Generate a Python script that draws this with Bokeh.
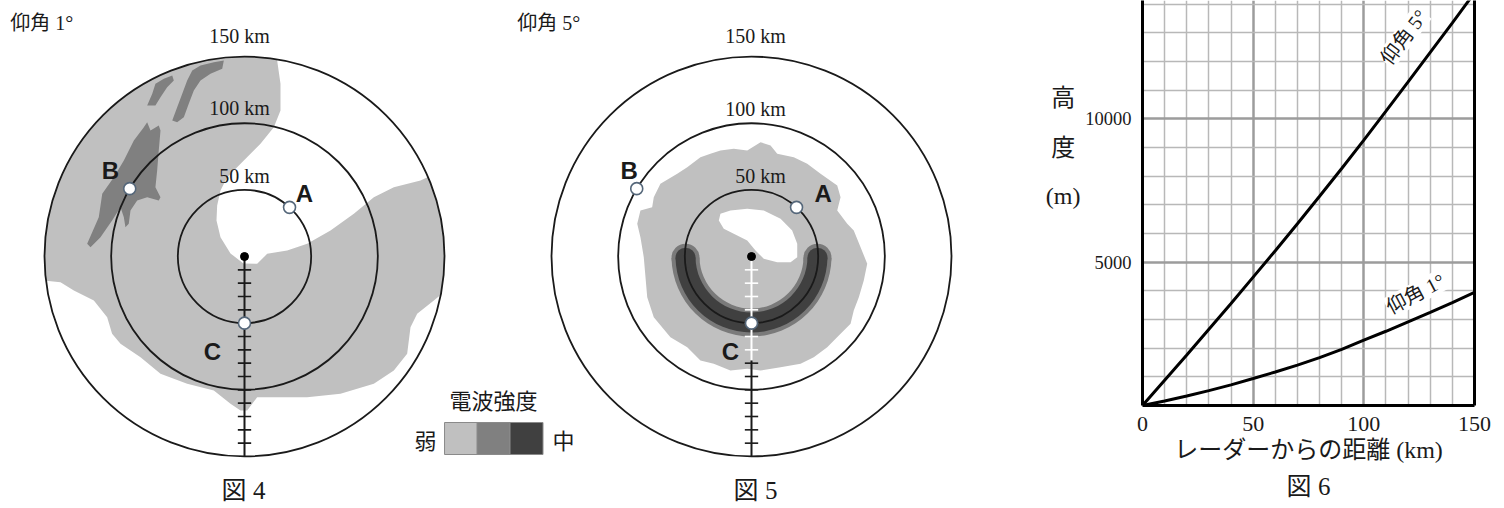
import numpy as np
from bokeh.plotting import figure
from bokeh.models import Range1d, FixedTicker, LinearAxis, Title, Label
from bokeh.layouts import row
from bokeh.embed import file_html
from bokeh.resources import INLINE
from bokeh.core.properties import value

# ---------------- data ----------------
ring_km = [50, 100, 150]
ring_text = ["50 km", "100 km", "150 km"]
point_names = ["A", "B", "C"]
point_range_km = [50, 100, 50]
point_azimuth_deg = [47.5, 149.4, 270.0]
ruler_ticks_km = [10, 20, 30, 40, 50, 60, 70, 80, 90, 100, 110, 120, 130, 140]

legend_title = "電波強度"
legend_low = "弱"
legend_high = "中"
intensity_colors = ["#c0c0c0", "#808080", "#404040"]

# 図4 (仰角1°) weak echo boundary, km east / north of the radar
f4_weak_a_x = [24.5, 27.0, 27.0, 22.0, 12.0, -0.5, -13.0, -18.0, -20.5, -21.0, -18.0, -10.5,
               -0.8, 9.5, 17.0, 32.0, 47.0, 64.5, 82.0, 97.0, 112.0, 132.0]
f4_weak_a_y = [147.0, 129.5, 109.5, 97.0, 84.5, 72.0, 59.5, 49.5, 38.3, 27.0, 14.5, 2.3,
               -5.3, -5.5, 2.0, 4.5, 9.5, 19.5, 32.0, 44.5, 52.0, 57.0]
f4_weak_b_x = [142.0, 129.5, 124.5, 122.0, 112.0, 97.0, 72.0, 47.0, 22.0, 9.5, 2.0, -3.0,
               -10.5, -23.0, -43.0, -63.0, -78.0, -93.0, -99.3, -103.0, -113.0, -128.0, -138.0]
f4_weak_b_y = [-33.0, -43.0, -53.0, -73.0, -85.5, -95.5, -103.0, -105.5, -105.5, -105.5, -115.5, -115.5,
               -110.5, -100.5, -95.5, -88.0, -75.5, -65.5, -58.0, -45.5, -33.0, -25.5, -19.3]
f4_weak_edge_deg = [23.4, -11.0, 187.0, 80.5]

# 図4 moderate echo streaks
f4_mod_xs = [
    [-118.0, -109.3, -106.7, -98.0, -90.5, -83.0, -75.5, -73.0, -70.5, -64.3, -63.0, -64.3, -65.5,
     -66.8, -63.0, -64.3, -73.0, -80.5, -85.5, -86.8, -89.3, -90.5, -93.0, -99.3, -108.0, -115.5],
    [-73.0, -69.2, -66.8, -60.5, -54.2, -53.0, -58.0, -63.0, -66.8],
    [-54.2, -50.5, -46.7, -43.0, -39.2, -33.0, -23.0, -15.5, -16.7, -25.5, -33.0, -38.0, -41.8, -45.5, -50.5],
]
f4_mod_ys = [
    [9.5, 29.5, 47.0, 59.5, 72.0, 87.0, 97.0, 100.7, 94.5, 98.3, 94.5, 79.5, 64.5,
     52.0, 44.5, 42.0, 44.5, 42.0, 34.5, 24.5, 22.0, 29.5, 37.0, 27.0, 14.5, 7.0],
    [113.3, 122.0, 129.5, 133.3, 135.8, 132.0, 127.0, 119.5, 113.3],
    [102.0, 112.0, 122.0, 132.0, 139.5, 143.3, 145.7, 147.0, 140.8, 137.0, 132.0, 124.5, 114.5, 104.5, 100.7],
]

# 図5 (仰角5°) weak echo blob and its echo-free hole
f5_weak_x = [-23.3, -13.3, -3.2, 6.8, 14.3, 19.3, 31.7, 41.8, 51.8, 64.3, 66.8, 64.3, 71.8, 76.7, 81.8,
             86.8, 84.2, 80.5, 76.7, 74.3, 66.8, 56.8, 46.7, 36.8, 21.8, 6.8, -3.2, -15.8, -28.3, -38.3,
             -48.2, -60.8, -73.3, -78.2, -79.5, -80.8, -83.3, -85.7, -83.3, -74.5, -73.3, -68.3, -55.7,
             -48.2, -38.3, -30.8]
f5_weak_y = [79.5, 80.8, 79.5, 85.7, 83.3, 77.0, 74.5, 69.5, 62.0, 53.3, 44.5, 34.5, 24.5, 19.5, 7.0,
             -5.5, -18.0, -30.5, -40.5, -50.5, -58.0, -68.0, -75.5, -80.5, -83.0, -85.5, -84.2, -85.5, -80.5, -78.0,
             -68.0, -60.5, -45.5, -30.5, -15.5, -0.5, 14.5, 24.5, 34.5, 37.0, 44.5, 54.5, 62.0,
             67.0, 74.5, 77.0]
f5_hole_x = [-24.5, -23.3, -15.8, -3.2, 9.2, 21.8, 30.5, 34.3, 34.3, 29.3, 19.3, 9.2, 3.0, -3.2, -13.3, -20.8]
f5_hole_y = [27.0, 32.0, 34.5, 35.8, 34.5, 28.3, 19.5, 9.5, -0.5, -4.3, -4.3, -1.7, 4.5, 12.0, 17.0, 20.8]
# 図5 moderate / strong band along the 50 km ring (km, degrees)
f5_band_mid_km = 49.5
f5_band_strong_half_km = 7.5
f5_band_mod_half_km = 10.5
f5_band_deg = [181.0, 359.0]

# 図6 beam height vs distance
distance_km = [0, 10, 20, 30, 40, 50, 60, 70, 80, 90, 100, 110, 120, 130, 140, 150]
height_5deg_m = [0, 880, 1760, 2660, 3560, 4480, 5400, 6340, 7300, 8270, 9260, 10270, 11290, 12320, 13350, 14400]
height_1deg_m = [0, 160, 330, 520, 720, 940, 1170, 1410, 1670, 1960, 2280, 2590, 2920, 3250, 3590, 3950]
x_ticks = [0, 50, 100, 150]
x_minor = [10, 20, 30, 40, 60, 70, 80, 90, 110, 120, 130, 140]
y_ticks = [5000, 10000]
y_minor = [1000, 2000, 3000, 4000, 6000, 7000, 8000, 9000, 11000, 12000, 13000, 14000]
y_title = ["高", "度", "(m)"]

# ---------------- styles ----------------
SERIF = "Liberation Serif"
MIX = "Liberation Serif, Noto Sans CJK JP"
CJK = "Noto Sans CJK JP"
SANS = "Liberation Sans"
INK = "#1a1a1a"

p = figure(width=1082, height=508, x_range=Range1d(-183, 628.5), y_range=Range1d(-189, 192),
           x_axis_type=None, y_axis_type=None, output_backend="svg", toolbar_location=None,
           min_border=0)
p.extra_x_ranges = {"f5": Range1d(-563.25, 248.25)}
p.grid.visible = False
p.outline_line_color = None
p.background_fill_color = "white"


def arc(a0, a1, r=150.0, n=60):
    t = np.radians(np.linspace(a0, a1, n))
    return list(r * np.cos(t)), list(r * np.sin(t))


def texts(xs, ys, tx, font, size, rn="default", align="center", style="normal"):
    p.text(x=xs, y=ys, text=tx, text_font=value(font), text_font_size=size,
           text_align=align, text_baseline="middle", text_font_style=style,
           text_color=INK, x_range_name=rn)


def ruler(rn, white_to_km):
    wt = [t for t in ruler_ticks_km if t <= white_to_km]
    bt = [t for t in ruler_ticks_km if t > white_to_km]
    if white_to_km > 0:
        p.segment(x0=[0], y0=[0], x1=[0], y1=[-white_to_km], line_color="white", line_width=2, x_range_name=rn)
        p.segment(x0=[-5] * len(wt), y0=[-t for t in wt], x1=[5] * len(wt), y1=[-t for t in wt],
                  line_color="white", line_width=1.6, x_range_name=rn)
    p.segment(x0=[0], y0=[-white_to_km], x1=[0], y1=[-150], line_color=INK, line_width=2, x_range_name=rn)
    p.segment(x0=[-5] * len(bt), y0=[-t for t in bt], x1=[5] * len(bt), y1=[-t for t in bt],
              line_color=INK, line_width=1.6, x_range_name=rn)


# ---- 図4 echoes ----
ax1, ay1 = arc(f4_weak_edge_deg[0], f4_weak_edge_deg[1])
ax2, ay2 = arc(f4_weak_edge_deg[2], f4_weak_edge_deg[3])
p.patch(f4_weak_a_x + ax1 + f4_weak_b_x + ax2, f4_weak_a_y + ay1 + f4_weak_b_y + ay2,
        fill_color=intensity_colors[0], line_color=None)
p.patches(f4_mod_xs, f4_mod_ys, fill_color=intensity_colors[1], line_color=None)

# ---- 図5 echoes ----
p.patch(f5_weak_x, f5_weak_y, fill_color=intensity_colors[0], line_color=None, x_range_name="f5")
p.patch(f5_hole_x, f5_hole_y, fill_color="white", line_color=None, x_range_name="f5")
for half, col in [(f5_band_mod_half_km, "#7a7a7a"), (f5_band_strong_half_km, intensity_colors[2])]:
    p.annular_wedge(x=[0], y=[0], inner_radius=f5_band_mid_km - half, outer_radius=f5_band_mid_km + half,
                    start_angle=np.radians(f5_band_deg[0]), end_angle=np.radians(f5_band_deg[1]),
                    fill_color=col, line_color=None, x_range_name="f5")
    ends = np.radians(f5_band_deg)
    p.circle(x=list(f5_band_mid_km * np.cos(ends)), y=list(f5_band_mid_km * np.sin(ends)), radius=half,
             fill_color=col, line_color=None, x_range_name="f5")

# ---- rings, rulers, points, texts for both maps ----
az = np.radians(point_azimuth_deg)
px = list(np.array(point_range_km) * np.cos(az))
py = list(np.array(point_range_km) * np.sin(az))
maps = [
    ("default", 0, "仰角 1°", "図 4",
     [(0, 60.75), (-3.75, 111.75), (-3.75, 165.75)], [(45, 47.25), (-100.5, 64.5), (-24, -71.25)], (-0.75, -175.5)),
    ("f5", 78, "仰角 5°", "図 5",
     [(6.75, 60.75), (3, 111), (3, 165.75)], [(53.8, 47.25), (-91.7, 64.5), (-15.75, -71.25)], (3, -175.5)),
]
for rn, white_to, ttl, fig_lbl, ring_pos, pt_pos, cap_pos in maps:
    p.circle(x=[0, 0, 0], y=[0, 0, 0], radius=ring_km, fill_color=None, line_color=INK,
             line_width=1.8, x_range_name=rn)
    ruler(rn, white_to)
    p.scatter(x=[0], y=[0], size=8, color="black", x_range_name=rn)
    p.scatter(x=px, y=py, size=12, fill_color="white", line_color="#55677a", line_width=1.6, x_range_name=rn)
    texts([-175.6], [175.5], [ttl], MIX, "20px", rn, align="left")
    texts([a for a, b in ring_pos], [b for a, b in ring_pos], ring_text, SERIF, "20px", rn)
    texts([a for a, b in pt_pos], [b for a, b in pt_pos], point_names, SANS, "24px", rn, style="bold")
    texts([cap_pos[0]], [cap_pos[1]], [fig_lbl], MIX, "25px", rn)

# ---- legend ----
p.rect(x=[162.4, 186.75, 211.5], y=[-136.5] * 3, width=24.75, height=24,
       fill_color=intensity_colors, line_color="#8a8a8a", line_width=1)
texts([186.75], [-106.5], [legend_title], CJK, "22px")
texts([135.75, 239.25], [-136.5, -136.5], [legend_low, legend_high], CJK, "22px")

# ---- 図6 vertical axis title (sits left of the 図6 tick labels) ----
texts([614.0, 614.0, 614.0], [119.25, 81.75, 45.75], y_title, MIX, "24px")

# ---------------- 図6 ----------------
q = figure(width=422, height=508, x_range=Range1d(0, 150), y_range=Range1d(0, 14130),
           output_backend="svg", toolbar_location=None,
           min_border_left=60, min_border_right=30, min_border_top=0, min_border_bottom=103)
for fig in (p, q):
    try:
        fig.frame_align = False
    except Exception:
        pass
q.outline_line_color = None
xt = FixedTicker(ticks=x_ticks, minor_ticks=x_minor)
yt = FixedTicker(ticks=y_ticks, minor_ticks=y_minor)
q.xaxis.ticker = xt
q.yaxis.ticker = yt
q.xgrid.ticker = xt
q.ygrid.ticker = yt
for g in (q.xgrid, q.ygrid):
    g.grid_line_color = "#9c9c9c"
    g.grid_line_width = 2.5
    g.minor_grid_line_color = "#b8b8b8"
    g.minor_grid_line_width = 1.5
for ax in (q.xaxis, q.yaxis):
    ax.axis_line_width = 3
    ax.axis_line_color = "black"
    ax.major_tick_line_color = None
    ax.minor_tick_line_color = None
    ax.major_label_text_font = SERIF
    ax.major_label_text_color = INK
q.xaxis.major_label_text_font_size = "22px"
q.xaxis.major_label_standoff = 5
q.yaxis.major_label_text_font_size = "18.5px"
q.yaxis.major_label_standoff = 5
q.yaxis.major_label_orientation = "horizontal"
q.xaxis.axis_label = "レーダーからの距離 (km)"
q.xaxis.axis_label_text_font = MIX
q.xaxis.axis_label_text_font_size = "24px"
q.xaxis.axis_label_text_font_style = "normal"
q.xaxis.axis_label_text_color = INK
q.xaxis.axis_label_standoff = 3

right = LinearAxis(ticker=FixedTicker(ticks=[]), axis_line_width=3, axis_line_color="black",
                   major_tick_line_color=None, minor_tick_line_color=None, major_label_text_font_size="0px")
q.add_layout(right, "right")
q.add_layout(Title(text="図 6", align="center", text_font=MIX, text_font_size="25px",
                   text_font_style="normal", text_color=INK, standoff=10), "below")

q.line(distance_km, height_5deg_m, line_color="black", line_width=3)
q.line(distance_km, height_1deg_m, line_color="black", line_width=3)

q.add_layout(Label(x=118.1, y=12850, text="仰角 5°", angle=53, angle_units="deg", text_align="center",
                   text_baseline="middle", text_font=MIX, text_font_size="20px", text_color=INK,
                   background_fill_color="white"))
q.add_layout(Label(x=123.3, y=3897, text="仰角 1°", angle=28, angle_units="deg", text_align="center",
                   text_baseline="middle", text_font=MIX, text_font_size="20px", text_color=INK,
                   background_fill_color="white"))

layout = row(p, q)
open("out.html", "w").write(file_html(layout, INLINE))
